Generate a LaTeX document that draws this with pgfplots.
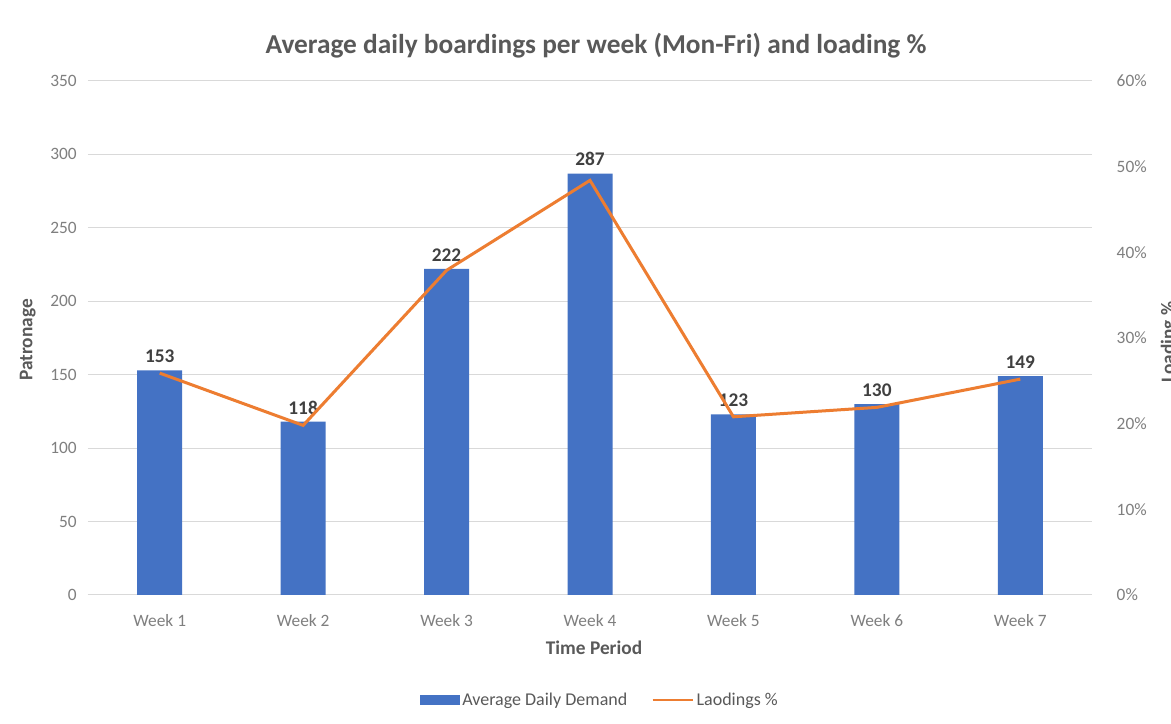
\documentclass[border=0pt]{standalone}
\usepackage{fontspec}
\setmainfont{Carlito}
\usepackage{pgfplots}
\pgfplotsset{compat=1.18}
\definecolor{barblue}{HTML}{4472C4}
\definecolor{lineorange}{HTML}{ED7D31}
\definecolor{gridgray}{HTML}{D9D9D9}
\definecolor{ticklabel}{HTML}{7F7F7F}
\definecolor{titlegray}{HTML}{404040}
\definecolor{labelgray}{HTML}{595959}
\begin{document}
\begin{tikzpicture}
\useasboundingbox (0pt,0pt) rectangle (878.25pt,543pt);
\fill[white] (0pt,0pt) rectangle (878.25pt,543pt);
\begin{axis}[
  at={(66pt,96.75pt)}, anchor=south west,
  scale only axis, width=753pt, height=385.5pt,
  xmin=0.5, xmax=7.5, ymin=0, ymax=350,
  xtick={1,2,3,4,5,6,7},
  xticklabels={Week 1,Week 2,Week 3,Week 4,Week 5,Week 6,Week 7},
  ytick={0,50,100,150,200,250,300,350},
  ymajorgrids, grid style={gridgray, line width=0.75pt},
  axis x line*=bottom, axis y line*=left,
  x axis line style={gridgray, line width=0.75pt, -},
  y axis line style={draw=none},
  tick style={draw=none},
  /pgf/number format/assume math mode=true,
  ticklabel style={font=\fontsize{13}{15}\selectfont, text=ticklabel},
  xticklabel style={yshift=-7pt},
  yticklabel style={xshift=-5pt},
  ylabel={Patronage}, xlabel={Time Period},
  label style={font=\bfseries\fontsize{14.5}{16}\selectfont, text=labelgray},
  ylabel style={at={(axis description cs:-0.06,0.496)}, anchor=center},
  xlabel style={at={(axis description cs:0.504,-0.103)}, anchor=center},
  ybar, bar width=33.75pt,
  nodes near coords,
  nodes near coords style={font=\bfseries\fontsize{14.5}{16}\selectfont, text=titlegray, yshift=2pt},
  legend style={at={(axis description cs:0.51,-0.204)}, anchor=center, draw=none,
    font=\fontsize{13.5}{15}\selectfont, text=labelgray, legend columns=2,
    /tikz/every even column/.append style={column sep=16pt}},
]
\addplot[fill=barblue, draw=none,
  legend image code/.code={\fill[barblue] (0pt,-3.5pt) rectangle (30pt,3.5pt);}]
  coordinates {(1,153) (2,118) (3,222) (4,287) (5,123) (6,130) (7,149)};
\addlegendentry{Average Daily Demand}
\addlegendimage{legend image code/.code={\draw[lineorange, line width=2pt] (0pt,0pt) -- (30pt,0pt);}}
\addlegendentry{Laodings \%}
\end{axis}
\begin{axis}[
  at={(66pt,96.75pt)}, anchor=south west,
  scale only axis, width=753pt, height=385.5pt,
  xmin=0.5, xmax=7.5, ymin=0, ymax=60,
  axis x line=none, axis y line*=right,
  y axis line style={draw=none},
  tick style={draw=none},
  ytick={0,10,20,30,40,50,60},
  yticklabel={\pgfmathprintnumber{\tick}\%},
  /pgf/number format/assume math mode=true,
  ticklabel style={font=\fontsize{13}{15}\selectfont, text=ticklabel},
  yticklabel style={xshift=15pt},
  ylabel={Loading \%},
  ylabel style={at={(axis description cs:1.077,0.492)}, anchor=center,
    font=\bfseries\fontsize{14.5}{16}\selectfont, text=labelgray},
]
\addplot[lineorange, line width=2.25pt, mark=none]
  coordinates {(1,25.9) (2,19.8) (3,37.9) (4,48.4) (5,20.8) (6,21.9) (7,25.2)};
\end{axis}
\node[font=\bfseries\fontsize{20.5}{24}\selectfont, text=labelgray] at (447pt,509pt)
  {Average daily boardings per week (Mon-Fri) and loading \%};
\end{tikzpicture}
\end{document}
